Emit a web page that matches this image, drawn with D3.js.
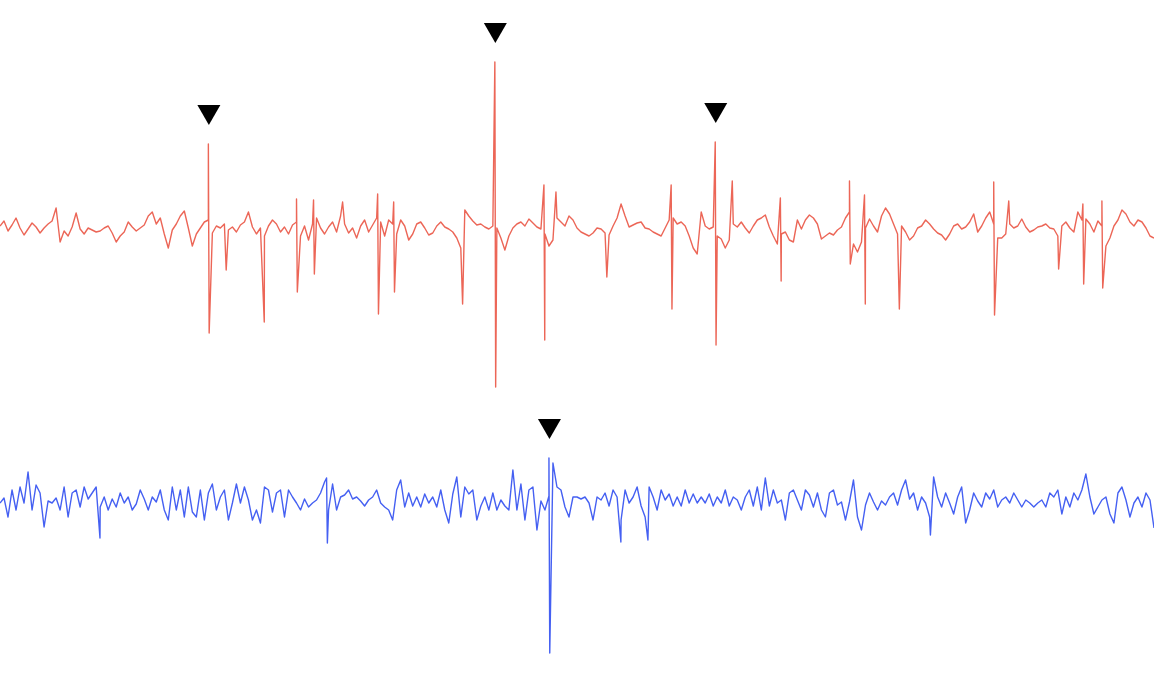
<!DOCTYPE html>
<html>
<head>
<meta charset="utf-8">
<script src="https://cdnjs.cloudflare.com/ajax/libs/d3/7.8.5/d3.min.js"></script>
<style>
	html, body { margin: 0; padding: 0; background: #fff; overflow: hidden; }
	#chart { width: 1154px; height: 694px; }
</style>
</head>
<body>
<div id="chart"></div>
<script>
//sampled traces, one value every 4 ms, amplitude in uV (positive = up)
var sampleStep = 4;

var redBase = [
	4, 9, -1, 5, 12, 2, -5, 1, 7, 3, -3, 2, 6, 9, 22, -12, -1, -6, 3, 17, 1, -4, 2, 0, -2,
	-1, 2, 4, -3, -12, -6, -2, 8, 3, -1, 2, 5, 14, 18, 6, 12, -4, -18, 0, 6, 14, 19, 2, -16, -4,
	2, 8, 10, -3, 4, 2, 6, 0, 3, -2, 5, 8, 18, 3, -4, 2, -6, 4, 10, 6, -2, 3, -4, 5, 8,
	-6, 4, -10, 6, 12, 2, -4, 3, 8, -2, 14, 6, -3, 2, -8, 4, 10, -2, 5, 12, 8, -6, 10, 6, -4,
	10, 4, -10, -4, 6, 8, 2, -5, -3, 4, 8, 3, 1, -2, -8, -18, 20, 14, 9, 5, 6, 3, 1, 4, 2,
	-8, -20, -6, 2, 6, 8, 4, 11, 7, 3, 1, -4, -16, -10, 12, 8, 4, 14, 10, 2, -2, -4, -6, -3, 2,
	1, -3, -5, 4, 12, 26, 14, 3, 5, 7, 8, 2, 1, -2, -4, -6, 2, 10, 12, 6, 8, 4, -6, -18, -24,
	18, 4, 1, 3, -6, -9, -18, -10, 6, 3, 8, 2, -3, 4, 10, 12, 15, 3, -6, -14, -4, -2, -10, -12, 10,
	1, 10, 15, 12, 6, -9, -6, -3, -5, 0, 3, 12, 18, -14, -22, -12, 2, 11, 4, -2, 14, 22, 16, 6, -4,
	4, -2, -10, -6, 2, 4, 10, 6, 1, -3, -5, -10, -4, 4, 6, 1, 3, 8, 16, -2, 4, 12, 18, 6, -8,
	-8, -4, 6, 2, 4, 11, 3, -2, 0, 3, 4, 6, 2, 1, -6, 4, 8, 2, -2, 18, 10, 11, 6, -2, 9,
	4, -16, -8, 4, 10, 20, 16, 8, 4, 10, 8, 2, -6, -8
];

//[time ms, peak up, peak down]
var redSpikes = [
	[208, 86, -103], [225, null, -40], [263, null, -92], [296, 31, -62], [313, 30, -44],
	[342, 28, null], [377, 36, -84], [393, 28, -62], [461, null, -74], [494, 168, -157],
	[543, 45, -110], [555, 38, null], [605, null, -47], [670, 45, -79], [714, 88, -115],
	[731, 49, null], [779, 32, -51], [848, 49, -34], [863, 35, -74], [897, null, -79],
	[992, 48, -85], [1007, 29, null], [1056, null, -39], [1081, 26, -54], [1100, 29, -58]
];

var redEvents = [208, 494, 714];

var blueBase = [
	-1, 4, -15, 12, -8, 15, -1, 30, -8, 17, 9, -25, 1, -1, 4, -8, 15, -15, 9, 12, -5, 15, 3, 9, 15,
	-5, 5, -8, 3, -5, 9, -1, 5, -8, -2, 12, 3, -8, 5, 0, 12, -8, -18, 15, -8, 12, -15, 15, -10, -15,
	12, -18, 9, 18, -8, 5, 12, -18, -1, 18, -1, 15, 2, -18, -8, -21, 15, 12, -10, 9, 12, -15, 12, 5, -1,
	-8, 3, -5, -1, 2, 9, 20, -8, 18, -8, 5, 7, 12, 3, 5, 1, -4, 2, 5, 12, -1, -5, -8, -18, 12,
	22, -5, 9, -4, 5, -5, 8, -1, 5, -5, 12, -8, -21, 8, 25, -15, 15, 8, 12, -18, -4, 5, -8, 9, -8,
	2, -4, -8, 32, -8, 18, -18, 12, 15, -28, 1, -8, 6, 39, 15, 12, -5, -15, 5, 5, 3, 5, -1, -18, 5,
	2, 9, -4, 12, 5, -18, 12, -1, 5, 15, -4, -15, 15, 5, -8, 12, 2, 8, -4, 5, -4, 12, -1, 8, -1,
	5, -1, 8, -4, 5, -1, 12, -4, 5, 2, -8, 5, 12, -4, 15, -8, 24, -4, 12, -1, 2, -18, 9, 12, 2,
	-8, 12, 7, -5, 9, -8, -15, 9, 12, -3, 0, -18, 0, 22, -15, -28, -3, 9, 0, -8, 1, -3, 5, 9, -3,
	12, 22, 3, 9, -8, 5, -1, -15, 25, 5, -5, 9, -1, -12, 5, 15, -21, -8, 9, 1, -5, 9, 3, 12, -5,
	2, 5, -1, 9, 2, -5, 2, -1, -5, -1, 2, -5, 9, 5, 12, -12, 5, -5, 9, 2, 12, 28, 5, -12, -5,
	2, 5, -12, -21, 9, 15, 2, -15, -1, 5, -5, 9, 2, -26
];

var blueSpikes = [
	[99, null, -36], [326, 24, -41], [548, 44, -151], [619, null, -40], [646, null, -38], [928, null, -33]
];

var blueEvents = [548];

var eegChart = function(opts){
	this.element = opts.element;
	this.channels = opts.channels;
	this.draw(this.element);
}

eegChart.prototype.draw = function(chartElement){
	this.width = chartElement.offsetWidth;
	this.height = chartElement.offsetHeight;

	chartElement.innerHTML = '';

	this.svg = d3.select(chartElement).append('svg')
		.attr('width', this.width)
		.attr('height', this.height);

	this.x = d3.scaleLinear()
		.domain([0, 1152])
		.range([0, this.width]);

	var that = this;
	this.channels.forEach(function(ch){
		that.addTrace(ch);
	});
}

eegChart.prototype.buildPoints = function(base, spikes){
	var pts = base.map(function(v, i){ return {t: i * sampleStep, v: v}; });
	spikes.forEach(function(s){
		if(s[1] != null) pts.push({t: s[0], v: s[1]});
		if(s[2] != null) pts.push({t: s[0] + 0.8, v: s[2]});
	});
	pts.sort(function(a, b){ return a.t - b.t; });
	return pts;
}

eegChart.prototype.addTrace = function(ch){
	var that = this;

	//each channel gets its own amplitude scale around its centre line
	var y = d3.scaleLinear()
		.domain([-200, 200])
		.range([ch.center + 200, ch.center - 200]);

	var pts = this.buildPoints(ch.base, ch.spikes);

	var line = d3.line()
		.x(function(d){ return that.x(d.t); })
		.y(function(d){ return y(d.v); });

	this.svg.append('path')
		.datum(pts)
		.attr('fill', 'none')
		.attr('stroke', ch.color)
		.attr('stroke-width', 1.4)
		.attr('stroke-linejoin', 'round')
		.attr('d', line);

	//event markers sit above the tallest point of the tagged spike
	var side = 23;
	var h = side * Math.sqrt(3) / 2;
	var tri = d3.symbol().type(d3.symbolTriangle).size(Math.sqrt(3) / 4 * side * side);

	this.svg.selectAll(null)
		.data(ch.events)
		.enter().append('path')
		.attr('d', tri)
		.attr('fill', '#000')
		.attr('transform', function(t){
			var sp = ch.spikes.find(function(s){ return s[0] == t; });
			var apex = y(sp[1]) - 19;
			return 'translate(' + (that.x(t) + 0.5) + ',' + (apex - h * 2 / 3) + ') rotate(180)';
		});
}

new eegChart({
	element: document.getElementById('chart'),
	channels: [
		{base: redBase, spikes: redSpikes, events: redEvents, center: 230, color: '#ec6657'},
		{base: blueBase, spikes: blueSpikes, events: blueEvents, center: 502, color: '#4560f2'}
	]
});
</script>
</body>
</html>
